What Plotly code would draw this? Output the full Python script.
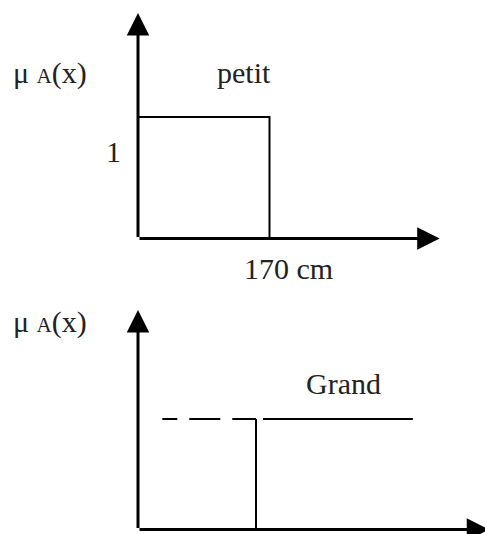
import plotly.graph_objects as go

# ---- data ----
THRESHOLD_CM = 170
PETIT_X = [0, 170, 170]
PETIT_Y = [1, 1, 0]

GRAND_DASH_X = [35, 170]
GRAND_DASH_Y = [1, 1]
GRAND_STEP_X = [170, 170]
GRAND_STEP_Y = [0, 1]
GRAND_SOLID_X = [180, 396]
GRAND_SOLID_Y = [1, 1]

TOP_X_TIP, TOP_Y_TIP = 390, 1.856
BOT_X_TIP, BOT_Y_TIP = 506, 1.986

LABEL_Y = "μ <span style='font-size:21px'>A</span>(x)"
LABEL_PETIT = "petit"
LABEL_GRAND = "Grand"
LABEL_ONE = "1"
LABEL_THRESHOLD = "170 cm"

W, H = 485, 534
FONT = "Liberation Serif"
INK = "#000000"
TXT = "#222222"

fig = go.Figure()

line_style = dict(color=INK, width=2)
fig.add_trace(go.Scatter(x=PETIT_X, y=PETIT_Y, mode="lines", line=line_style,
                         xaxis="x", yaxis="y", hoverinfo="skip"))
fig.add_trace(go.Scatter(x=GRAND_DASH_X, y=GRAND_DASH_Y, mode="lines",
                         line=dict(color=INK, width=2, dash="15px,12px,31px,12px,40px,40px"),
                         xaxis="x2", yaxis="y2", hoverinfo="skip"))
fig.add_trace(go.Scatter(x=GRAND_STEP_X, y=GRAND_STEP_Y, mode="lines", line=line_style,
                         xaxis="x2", yaxis="y2", hoverinfo="skip"))
fig.add_trace(go.Scatter(x=GRAND_SOLID_X, y=GRAND_SOLID_Y, mode="lines", line=line_style,
                         xaxis="x2", yaxis="y2", hoverinfo="skip"))

def axis_arrow(xr, yr, x, y):
    return dict(xref=xr, yref=yr, axref=xr, ayref=yr, x=x, y=y, ax=0, ay=0,
                text="", showarrow=True, arrowhead=2, arrowsize=1.5, arrowwidth=3,
                arrowcolor=INK, standoff=0, startstandoff=0)

def px_ann(text, cx, cy, size=30, xanchor="center"):
    return dict(xref="paper", yref="paper", x=cx / W, y=1 - cy / H, text=text,
                showarrow=False, xanchor=xanchor, yanchor="middle",
                font=dict(family=FONT, size=size, color=TXT))

annotations = [
    axis_arrow("x", "y", 0, TOP_Y_TIP),
    axis_arrow("x", "y", TOP_X_TIP, 0),
    axis_arrow("x2", "y2", 0, BOT_Y_TIP),
    axis_arrow("x2", "y2", BOT_X_TIP, 0),
    px_ann(LABEL_Y, 11, 73, xanchor="left"),
    px_ann(LABEL_PETIT, 244, 72),
    px_ann(LABEL_ONE, 113, 151),
    px_ann(LABEL_THRESHOLD, 288.5, 268),
    px_ann(LABEL_GRAND, 343.5, 383),
    px_ann(LABEL_Y, 11, 322, xanchor="left"),
]

hidden = dict(visible=False, showgrid=False, zeroline=False, fixedrange=True)

fig.update_layout(
    width=W, height=H,
    margin=dict(l=0, r=0, t=0, b=0),
    paper_bgcolor="white", plot_bgcolor="white",
    showlegend=False,
    xaxis=dict(domain=[0, 1], range=[-178.4, 448.6], anchor="y", **hidden),
    yaxis=dict(domain=[0.5, 1], range=[-0.2346, 1.963], anchor="x", **hidden),
    xaxis2=dict(domain=[0, 1], range=[-198.8, 499.9], anchor="y2", **hidden),
    yaxis2=dict(domain=[0, 0.5], range=[-0.0407, 2.3756], anchor="x2", **hidden),
    annotations=annotations,
)

fig.write_html(
    "out.html",
    config={"displayModeBar": False, "staticPlot": True},
    post_script="document.body.style.margin='0';document.body.style.overflow='hidden';",
)
